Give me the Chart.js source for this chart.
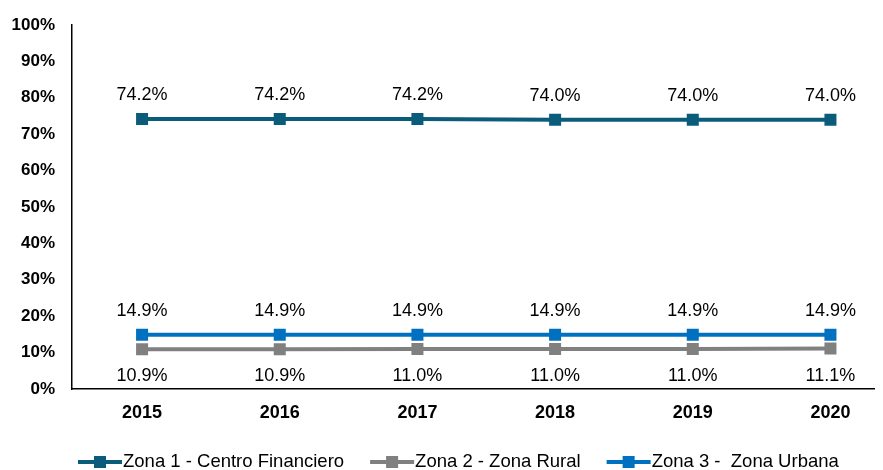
<!DOCTYPE html>
<html>
<head>
<meta charset="utf-8">
<script src="https://cdn.jsdelivr.net/npm/chart.js@4"></script>
<style>
  html, body { margin: 0; padding: 0; background: #fff; }
  #wrap { width: 883px; height: 470px; position: relative; }
</style>
</head>
<body>
<div id="wrap"><canvas id="chart"></canvas></div>
<script>
// data
const years = ['2015', '2016', '2017', '2018', '2019', '2020'];
const zona1 = [74.2, 74.2, 74.2, 74.0, 74.0, 74.0];
const zona2 = [10.9, 10.9, 11.0, 11.0, 11.0, 11.1];
const zona3 = [14.9, 14.9, 14.9, 14.9, 14.9, 14.9];
const seriesNames = ['Zona 1 - Centro Financiero', 'Zona 2 - Zona Rural', 'Zona 3 -  Zona Urbana'];
const yTicks = [0, 10, 20, 30, 40, 50, 60, 70, 80, 90, 100];

const colors = ['#0B5C7B', '#808080', '#0070C0'];
const labelOffsets = [-24, 27, -24]; // above / below the marker

function toPoints(arr) {
    return arr.map((v, i) => ({ x: i, y: v }));
}

// draws the value labels next to each marker
const valueLabels = {
    id: 'valueLabels',
    afterDatasetsDraw(chart) {
        const ctx = chart.ctx;
        ctx.save();
        ctx.font = '18px "Liberation Sans", Arial, sans-serif';
        ctx.fillStyle = '#000';
        ctx.textAlign = 'center';
        ctx.textBaseline = 'middle';
        chart.data.datasets.forEach((ds, di) => {
            const meta = chart.getDatasetMeta(di);
            meta.data.forEach((pt, i) => {
                ctx.fillText(ds.data[i].y.toFixed(1) + '%', pt.x, pt.y + labelOffsets[di]);
            });
        });
        ctx.restore();
    }
};

// legend with line + square marker, like the office chart
const lineLegend = {
    id: 'lineLegend',
    afterDraw(chart) {
        const ctx = chart.ctx;
        ctx.save();
        ctx.font = '18.5px "Liberation Sans", Arial, sans-serif';
        ctx.textBaseline = 'middle';
        let x = 78;
        const y = 462;
        chart.data.datasets.forEach((ds, di) => {
            ctx.strokeStyle = colors[di];
            ctx.lineWidth = 4;
            ctx.beginPath();
            ctx.moveTo(x, y);
            ctx.lineTo(x + 44, y);
            ctx.stroke();
            ctx.fillStyle = colors[di];
            ctx.fillRect(x + 16, y - 6, 12, 12);
            ctx.fillStyle = '#000';
            ctx.textAlign = 'left';
            ctx.fillText(ds.label, x + 45, y);
            x += 45 + ctx.measureText(ds.label).width + 26;
        });
        ctx.restore();
    }
};

const ctx = document.getElementById('chart').getContext('2d');
const chart = new Chart(ctx, {
    type: 'line',
    data: {
        datasets: [zona1, zona2, zona3].map((arr, i) => ({
            label: seriesNames[i],
            data: toPoints(arr),
            borderColor: colors[i],
            backgroundColor: colors[i],
            borderWidth: 4,
            pointStyle: 'rect',
            pointRadius: 8.5,
            pointBorderWidth: 0,
            pointBackgroundColor: colors[i],
            tension: 0
        }))
    },
    options: {
        responsive: true,
        maintainAspectRatio: false,
        animation: false,
        layout: { padding: { top: 25, right: 0, left: 0, bottom: 0 } },
        scales: {
            x: {
                type: 'linear',
                min: -0.509,
                max: 5.32,
                grid: { display: false, drawTicks: false },
                border: { display: true, color: '#000', width: 1.5 },
                afterBuildTicks: s => { s.ticks = years.map((y, i) => ({ value: i })); },
                afterFit: s => { s.height = 81; s.paddingLeft = 0; s.paddingRight = 0; },
                ticks: {
                    padding: 13,
                    color: '#000',
                    font: { family: '"Liberation Sans", Arial, sans-serif', size: 18, weight: 'bold' },
                    callback: v => years[v] ?? ''
                }
            },
            y: {
                min: 0,
                max: 100,
                grid: { display: false, drawTicks: false },
                border: { display: true, color: '#000', width: 1.5 },
                afterBuildTicks: s => { s.ticks = yTicks.map(v => ({ value: v })); },
                afterFit: s => { s.width = 72; s.paddingTop = 0; s.paddingBottom = 0; },
                ticks: {
                    padding: 17,
                    color: '#000',
                    font: { family: '"Liberation Sans", Arial, sans-serif', size: 17, weight: 'bold' },
                    callback: v => v + '%'
                }
            }
        },
        plugins: {
            legend: { display: false },
            tooltip: { enabled: false }
        }
    },
    plugins: [valueLabels, lineLegend]
});
</script>
</body>
</html>
